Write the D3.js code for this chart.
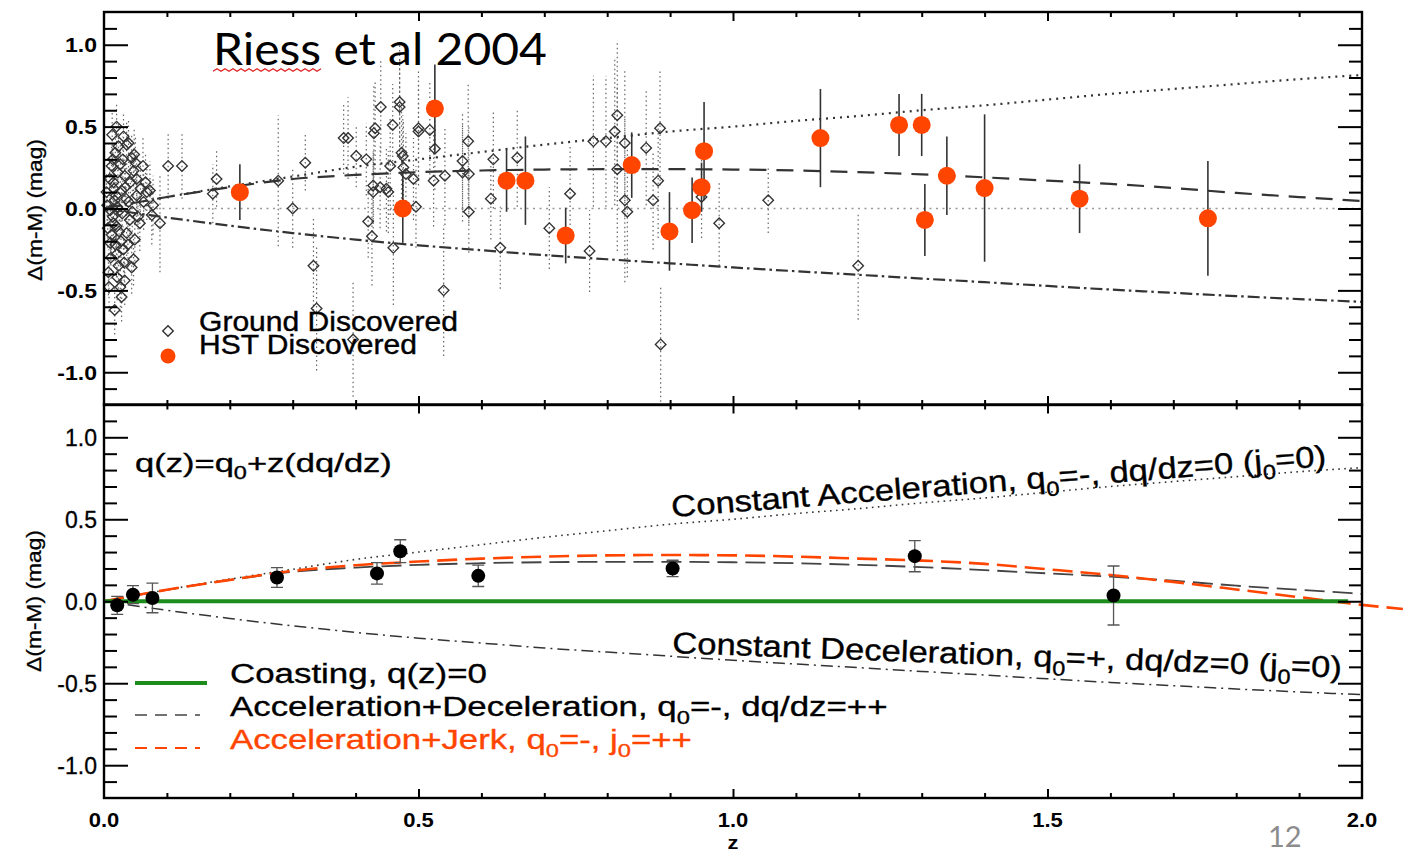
<!DOCTYPE html>
<html>
<head>
<meta charset="utf-8">
<script src="https://cdn.jsdelivr.net/npm/d3@7"></script>
<style>
  html, body { margin: 0; padding: 0; background: #fff; }
  svg { display: block; }
</style>
</head>
<body>
<svg id="fig" width="1403" height="855"></svg>
<script>
// Hubble-diagram residuals, Δ(m-M) relative to an empty (coasting) universe.

// Ground-discovered SNe Ia: [z, Δ(m-M), σ]
const groundSN = [
  [0.004, 0.10, 0.12], [0.005, 0.02, 0.12], [0.006, -0.12, 0.12], [0.007, -0.39, 0.14],
  [0.008, -0.48, 0.15], [0.009, 0.18, 0.13], [0.010, -0.01, 0.12], [0.010, -0.21, 0.13],
  [0.011, -0.30, 0.13], [0.012, 0.26, 0.14], [0.012, -0.16, 0.12], [0.013, 0.45, 0.15],
  [0.014, 0.30, 0.13], [0.014, -0.05, 0.12], [0.015, 0.16, 0.12], [0.015, -0.09, 0.13],
  [0.016, 0.12, 0.13], [0.017, 0.05, 0.12], [0.017, -0.62, 0.15], [0.018, 0.34, 0.14],
  [0.018, -0.22, 0.13], [0.019, 0.08, 0.12], [0.020, -0.11, 0.13], [0.020, -0.28, 0.14],
  [0.020, 0.50, 0.15], [0.021, -0.42, 0.14], [0.021, 0.01, 0.12], [0.022, 0.22, 0.13],
  [0.023, 0.38, 0.15], [0.023, -0.35, 0.14], [0.024, -0.14, 0.13], [0.025, -0.01, 0.12],
  [0.026, -0.48, 0.15], [0.026, 0.27, 0.14], [0.027, -0.20, 0.13], [0.028, 0.11, 0.13],
  [0.028, -0.54, 0.15], [0.029, -0.03, 0.13], [0.030, 0.30, 0.14], [0.031, 0.44, 0.15],
  [0.031, -0.25, 0.14], [0.032, -0.33, 0.14], [0.033, 0.20, 0.13], [0.033, -0.44, 0.15],
  [0.034, 0.13, 0.14], [0.035, 0.06, 0.13], [0.036, -0.15, 0.14], [0.036, 0.39, 0.15],
  [0.038, -0.22, 0.14], [0.039, 0.04, 0.14], [0.039, 0.40, 0.15], [0.041, -0.07, 0.14],
  [0.042, 0.16, 0.15], [0.044, 0.31, 0.15], [0.044, -0.36, 0.16], [0.045, -0.02, 0.15],
  [0.047, 0.23, 0.15], [0.047, -0.31, 0.16], [0.048, 0.33, 0.16], [0.049, -0.19, 0.16],
  [0.050, 0.28, 0.16], [0.052, 0.18, 0.16], [0.052, 0.08, 0.16], [0.054, -0.05, 0.16],
  [0.057, -0.09, 0.17], [0.058, 0.12, 0.17], [0.062, 0.26, 0.17], [0.063, 0.04, 0.17],
  [0.066, 0.16, 0.17], [0.068, 0.10, 0.17], [0.073, 0.11, 0.18], [0.076, -0.04, 0.18],
  [0.078, 0.02, 0.18], [0.089, -0.09, 0.30], [0.102, 0.26, 0.20], [0.124, 0.26, 0.20],
  [0.173, 0.09, 0.18], [0.179, 0.18, 0.17], [0.277, 0.17, 0.40], [0.300, 0.00, 0.24],
  [0.320, 0.28, 0.17], [0.333, -0.35, 0.30], [0.338, -0.61, 0.38], [0.381, 0.43, 0.22],
  [0.388, 0.43, 0.25], [0.396, -0.80, 0.35], [0.401, 0.32, 0.19], [0.417, 0.30, 0.22],
  [0.420, -0.08, 0.22], [0.426, -0.17, 0.30], [0.428, 0.10, 0.25], [0.428, 0.14, 0.22],
  [0.429, 0.46, 0.30], [0.431, 0.49, 0.28], [0.439, 0.13, 0.25], [0.440, 0.62, 0.28],
  [0.449, 0.12, 0.26], [0.452, 0.10, 0.25], [0.455, 0.26, 0.30], [0.459, 0.51, 0.25],
  [0.460, -0.24, 0.35], [0.470, 0.65, 0.35], [0.470, 0.62, 0.30], [0.473, 0.34, 0.28],
  [0.475, 0.32, 0.25], [0.476, 0.25, 0.28], [0.480, 0.21, 0.25], [0.492, 0.18, 0.25],
  [0.496, 0.01, 0.25], [0.500, 0.49, 0.35], [0.500, 0.47, 0.30], [0.518, 0.48, 0.30],
  [0.524, 0.17, 0.28], [0.526, 0.365, 0.25], [0.540, -0.50, 0.40], [0.542, 0.20, 0.30],
  [0.570, 0.29, 0.30], [0.570, 0.22, 0.30], [0.579, 0.41, 0.35], [0.580, 0.21, 0.30],
  [0.580, -0.02, 0.25], [0.615, 0.06, 0.25], [0.619, 0.30, 0.30], [0.630, -0.24, 0.25],
  [0.657, 0.31, 0.30], [0.708, -0.12, 0.25], [0.741, 0.09, 0.30], [0.772, -0.26, 0.25],
  [0.778, 0.41, 0.40], [0.798, 0.41, 0.40], [0.812, 0.47, 0.45], [0.816, 0.57, 0.45],
  [0.816, 0.24, 0.50], [0.828, 0.40, 0.45], [0.828, 0.05, 0.50], [0.832, -0.02, 0.40],
  [0.862, 0.37, 0.35], [0.873, 0.05, 0.30], [0.881, 0.17, 0.35], [0.884, 0.49, 0.35],
  [0.885, -0.83, 0.35], [0.950, 0.07, 0.25], [0.978, -0.09, 0.26], [1.056, 0.05, 0.20],
  [1.199, -0.35, 0.33]
];

// HST-discovered SNe Ia: [z, Δ(m-M), σ]
const hstSN = [
  [0.216, 0.10, 0.17], [0.475, 0.00, 0.21], [0.526, 0.61, 0.27], [0.640, 0.17, 0.19],
  [0.670, 0.17, 0.27], [0.734, -0.165, 0.17], [0.839, 0.265, 0.20], [0.899, -0.14, 0.24],
  [0.935, -0.01, 0.20], [0.950, 0.13, 0.15], [0.954, 0.35, 0.30], [1.139, 0.43, 0.30],
  [1.264, 0.51, 0.19], [1.300, 0.51, 0.19], [1.305, -0.07, 0.22], [1.340, 0.20, 0.24],
  [1.400, 0.125, 0.45], [1.551, 0.06, 0.21], [1.755, -0.06, 0.35]
];

// Binned averages for the lower panel: [z, Δ(m-M), σ]
const binnedSN = [
  [0.021, -0.025, 0.055], [0.046, 0.04, 0.055], [0.077, 0.02, 0.09], [0.275, 0.145, 0.06],
  [0.434, 0.17, 0.065], [0.471, 0.305, 0.07], [0.595, 0.155, 0.065], [0.904, 0.20, 0.05],
  [1.289, 0.275, 0.095], [1.605, 0.035, 0.18]
];

// Model curves sampled in redshift
const modelZ      = [0, 0.1, 0.2, 0.3, 0.4, 0.5, 0.6, 0.7, 0.8, 0.9, 1.0, 1.1, 1.2, 1.3, 1.4, 1.5, 1.6, 1.7, 1.8, 1.9, 2.0];
const constAccel  = [0, 0.07, 0.135, 0.195, 0.255, 0.30, 0.345, 0.39, 0.43, 0.47, 0.50, 0.535, 0.565, 0.60, 0.63, 0.665, 0.70, 0.73, 0.76, 0.79, 0.815];
const accelDecel  = [0, 0.07, 0.13, 0.18, 0.205, 0.222, 0.232, 0.238, 0.24, 0.24, 0.238, 0.232, 0.222, 0.208, 0.19, 0.17, 0.15, 0.125, 0.095, 0.07, 0.045];
const constDecel  = [0, -0.055, -0.105, -0.15, -0.19, -0.225, -0.255, -0.285, -0.31, -0.335, -0.36, -0.383, -0.405, -0.428, -0.45, -0.473, -0.495, -0.515, -0.535, -0.553, -0.57];
const jerkZ       = [0, 0.1, 0.2, 0.3, 0.4, 0.5, 0.6, 0.7, 0.8, 0.9, 1.0, 1.1, 1.2, 1.3, 1.4, 1.5, 1.6, 1.7, 1.8, 1.9, 2.0, 2.065];
const accelJerk   = [0, 0.07, 0.13, 0.185, 0.22, 0.242, 0.26, 0.272, 0.28, 0.282, 0.28, 0.272, 0.26, 0.248, 0.228, 0.195, 0.16, 0.118, 0.072, 0.025, -0.022, -0.047];
const coastZ      = [0, 1.978];
const coastVals   = [0, 0];

// Axis ticks
const yTickValues = [1, 0.5, 0, -0.5, -1];
const yTickLabels = ["1.0", "0.5", "0.0", "-0.5", "-1.0"];
const xTickValues = [0, 0.5, 1, 1.5, 2];
const xTickLabels = ["0.0", "0.5", "1.0", "1.5", "2.0"];

const SANS = "'Liberation Sans', Helvetica, Arial, sans-serif";
const ORANGE = "#ff4500";
const GREEN = "#1c8c1c";

const svg = d3.select("#fig");
const x = d3.scaleLinear().domain([0, 2]).range([104, 1362]);
const yTop = d3.scaleLinear().domain([-1.2, 1.2]).range([405, 12]);
const yBot = d3.scaleLinear().domain([-1.2, 1.2]).range([798, 404.5]);

const zip = (zs, vs) => zs.map((z, i) => [z, vs[i]]);

// Text with optional subscripts, stretched to a given width
function label(parent, o) {
  const g = parent.append("g");
  const fill = o.fill || "#000";
  const t = g.append("text")
    .attr("font-family", o.family || SANS)
    .attr("font-size", o.size)
    .attr("font-weight", o.weight || 400)
    .attr("fill", fill)
    .attr("text-anchor", o.anchor || "start");
  if (o.thicken) t.attr("stroke", fill).attr("stroke-width", o.thicken);
  let shift = 0;
  o.parts.forEach(p => {
    const sub = typeof p !== "string";
    const want = sub ? o.size * 0.28 : 0;
    t.append("tspan")
      .attr("font-size", sub ? o.size * 0.68 : o.size)
      .attr("dy", want - shift)
      .text(sub ? p.sub : p);
    shift = want;
  });
  const w = t.node().getComputedTextLength();
  const s = o.width ? o.width / w : (o.stretch || 1);
  g.attr("transform", `translate(${o.x},${o.y}) rotate(${o.rotate || 0}) scale(${s},1)`);
  return g;
}

// Frame, inward ticks on all four sides
function panelFrame(y) {
  const g = svg.append("g");
  const [yb, yt] = y.range();
  const tenths = d3.range(-11, 12).map(v => v / 10);
  const yMinor = tenths.filter(v => Math.abs(v * 2 - Math.round(v * 2)) > 1e-6);
  const xMinor = d3.range(1, 20).map(v => v / 10).filter(v => Math.abs(v * 2 - Math.round(v * 2)) > 1e-6);
  const xMajor = [0.5, 1.0, 1.5];
  const style = sel => {
    sel.select(".domain").remove();
    sel.selectAll("line").attr("stroke", "#000").attr("stroke-width", 2);
  };
  const add = (axis, tx, ty) => g.append("g").attr("transform", `translate(${tx},${ty})`).call(axis).call(style);
  add(d3.axisRight(y).tickValues(yMinor).tickSize(13).tickFormat(""), 104, 0);
  add(d3.axisRight(y).tickValues(yTickValues).tickSize(24).tickFormat(""), 104, 0);
  add(d3.axisLeft(y).tickValues(yMinor).tickSize(13).tickFormat(""), 1362, 0);
  add(d3.axisLeft(y).tickValues(yTickValues).tickSize(24).tickFormat(""), 1362, 0);
  add(d3.axisTop(x).tickValues(xMinor).tickSize(5).tickFormat(""), 0, yb);
  add(d3.axisTop(x).tickValues(xMajor).tickSize(9).tickFormat(""), 0, yb);
  add(d3.axisBottom(x).tickValues(xMinor).tickSize(5).tickFormat(""), 0, yt);
  add(d3.axisBottom(x).tickValues(xMajor).tickSize(9).tickFormat(""), 0, yt);
  g.append("rect")
    .attr("x", x(0)).attr("y", yt)
    .attr("width", x(2) - x(0)).attr("height", yb - yt)
    .attr("fill", "none").attr("stroke", "#000").attr("stroke-width", 2.4);
  return g;
}

function curve(y, data, stroke, width, dash) {
  const line = d3.line().x(d => x(d[0])).y(d => y(d[1])).curve(d3.curveMonotoneX);
  return svg.append("path")
    .attr("d", line(data))
    .attr("fill", "none")
    .attr("stroke", stroke)
    .attr("stroke-width", width)
    .attr("stroke-dasharray", dash || null)
    .attr("stroke-linecap", "butt");
}

const diamond = d3.symbol(d3.symbolSquare, 56);

/* ---------------- upper panel ---------------- */
curve(yTop, [[0, 0], [2, 0]], "#9a9a9a", 1.6, "2,4.5");

const gGround = svg.append("g");
gGround.selectAll("line").data(groundSN).join("line")
  .attr("x1", d => x(d[0])).attr("x2", d => x(d[0]))
  .attr("y1", d => yTop(d[1] - d[2])).attr("y2", d => yTop(d[1] + d[2]))
  .attr("stroke", "#666").attr("stroke-width", 1.2).attr("stroke-dasharray", "1.5,3");
gGround.selectAll("path").data(groundSN).join("path")
  .attr("d", diamond)
  .attr("transform", d => `translate(${x(d[0])},${yTop(d[1])}) rotate(45)`)
  .attr("fill", "none").attr("stroke", "#333").attr("stroke-width", 1.35);

curve(yTop, zip(modelZ, constAccel), "#333", 2.2, "2,5");
curve(yTop, zip(modelZ, accelDecel), "#333", 2.2, "17,10");
curve(yTop, zip(modelZ, constDecel), "#333", 2.2, "12,4,2.5,4");

const gHst = svg.append("g");
gHst.selectAll("line").data(hstSN).join("line")
  .attr("x1", d => x(d[0])).attr("x2", d => x(d[0]))
  .attr("y1", d => yTop(d[1] - d[2])).attr("y2", d => yTop(d[1] + d[2]))
  .attr("stroke", "#333").attr("stroke-width", 1.6);
gHst.selectAll("circle").data(hstSN).join("circle")
  .attr("cx", d => x(d[0])).attr("cy", d => yTop(d[1])).attr("r", 9)
  .attr("fill", ORANGE);

panelFrame(yTop);

// Upper legend
svg.append("path").attr("d", diamond)
  .attr("transform", "translate(168,331) rotate(45)")
  .attr("fill", "none").attr("stroke", "#333").attr("stroke-width", 1.4);
svg.append("circle").attr("cx", 168).attr("cy", 356).attr("r", 7.5).attr("fill", ORANGE);
label(svg, { x: 199, y: 331, size: 27, width: 259, thicken: 0.4, parts: ["Ground Discovered"] });
label(svg, { x: 199, y: 354, size: 27, width: 218, thicken: 0.4, parts: ["HST Discovered"] });

// Title with spell-check squiggle
label(svg, { x: 213, y: 65, size: 44, width: 334, family: "Lato, 'Open Sans', sans-serif", parts: ["Riess et al 2004"] });
{
  const pts = d3.range(0, 28).map(i => [213 + i * 4, 70 + (i % 2 ? -1.3 : 1.3)]);
  svg.append("path").attr("d", d3.line()(pts)).attr("fill", "none").attr("stroke", "#e02020").attr("stroke-width", 1.2);
}

/* ---------------- lower panel ---------------- */
curve(yBot, zip(modelZ, constAccel), "#333", 1.6, "1.6,4.4");
curve(yBot, zip(modelZ, constDecel), "#333", 1.5, "12,5,2,5");
curve(yBot, zip(modelZ, accelDecel), "#444", 1.8, "20,8");
curve(yBot, zip(jerkZ, accelJerk), ORANGE, 2.6, "20,8");
curve(yBot, zip(coastZ, coastVals), GREEN, 4.2);

const gBin = svg.append("g");
const capW = 6;
gBin.selectAll("path").data(binnedSN).join("path")
  .attr("d", d => {
    const cx = x(d[0]), lo = yBot(d[1] - d[2]), hi = yBot(d[1] + d[2]);
    return `M${cx},${lo}V${hi}M${cx - capW},${lo}H${cx + capW}M${cx - capW},${hi}H${cx + capW}`;
  })
  .attr("fill", "none").attr("stroke", "#555").attr("stroke-width", 1.3);
gBin.selectAll("circle").data(binnedSN).join("circle")
  .attr("cx", d => x(d[0])).attr("cy", d => yBot(d[1])).attr("r", 7)
  .attr("fill", "#000");

panelFrame(yBot);

label(svg, { x: 135, y: 472, size: 26, width: 257, thicken: 0.35, parts: ["q(z)=q", { sub: "0" }, "+z(dq/dz)"] });
label(svg, { x: 672, y: 517, size: 30, width: 657, rotate: -4.45, thicken: 0.35,
  parts: ["Constant Acceleration, q", { sub: "0" }, "=-, dq/dz=0 (j", { sub: "0" }, "=0)"] });
label(svg, { x: 672, y: 653, size: 30, width: 670, rotate: 2.1, thicken: 0.35,
  parts: ["Constant Deceleration, q", { sub: "0" }, "=+, dq/dz=0 (j", { sub: "0" }, "=0)"] });

// Lower legend
svg.append("line").attr("x1", 135).attr("x2", 207).attr("y1", 683).attr("y2", 683)
  .attr("stroke", GREEN).attr("stroke-width", 4.2);
svg.append("line").attr("x1", 135).attr("x2", 200).attr("y1", 715).attr("y2", 715)
  .attr("stroke", "#444").attr("stroke-width", 1.6).attr("stroke-dasharray", "12,8");
svg.append("line").attr("x1", 135).attr("x2", 200).attr("y1", 748).attr("y2", 748)
  .attr("stroke", ORANGE).attr("stroke-width", 2).attr("stroke-dasharray", "12,8");
label(svg, { x: 230, y: 683, size: 28, width: 257, thicken: 0.35, parts: ["Coasting, q(z)=0"] });
label(svg, { x: 230, y: 716, size: 28, width: 658, thicken: 0.35, parts: ["Acceleration+Deceleration, q", { sub: "0" }, "=-, dq/dz=++"] });
label(svg, { x: 230, y: 749, size: 28, width: 462, thicken: 0.35, fill: ORANGE, parts: ["Acceleration+Jerk, q", { sub: "0" }, "=-, j", { sub: "0" }, "=++"] });

/* ---------------- axis labels ---------------- */
yTickValues.forEach((v, i) => {
  label(svg, { x: 97, y: yTop(v) + 7.5, size: 20, weight: 700, anchor: "end", stretch: 1.15, parts: [yTickLabels[i]] });
  label(svg, { x: 97, y: yBot(v) + 8.5, size: 23, anchor: "end", thicken: 0.3, parts: [yTickLabels[i]] });
});
xTickValues.forEach((v, i) => {
  label(svg, { x: x(v), y: 827, size: 20, weight: 700, anchor: "middle", stretch: 1.1, parts: [xTickLabels[i]] });
});
label(svg, { x: 733, y: 849, size: 19, weight: 700, anchor: "middle", stretch: 1.15, parts: ["z"] });
label(svg, { x: 42, y: 210, size: 20, width: 142, anchor: "middle", rotate: -90, thicken: 0.3, parts: ["Δ(m-M) (mag)"] });
label(svg, { x: 41, y: 601, size: 20, width: 142, anchor: "middle", rotate: -90, thicken: 0.3, parts: ["Δ(m-M) (mag)"] });

// Slide number
label(svg, { x: 1268, y: 847, size: 29, fill: "#8c8c8c", family: "Lato, 'Open Sans', sans-serif", parts: ["12"] });
</script>
</body>
</html>
